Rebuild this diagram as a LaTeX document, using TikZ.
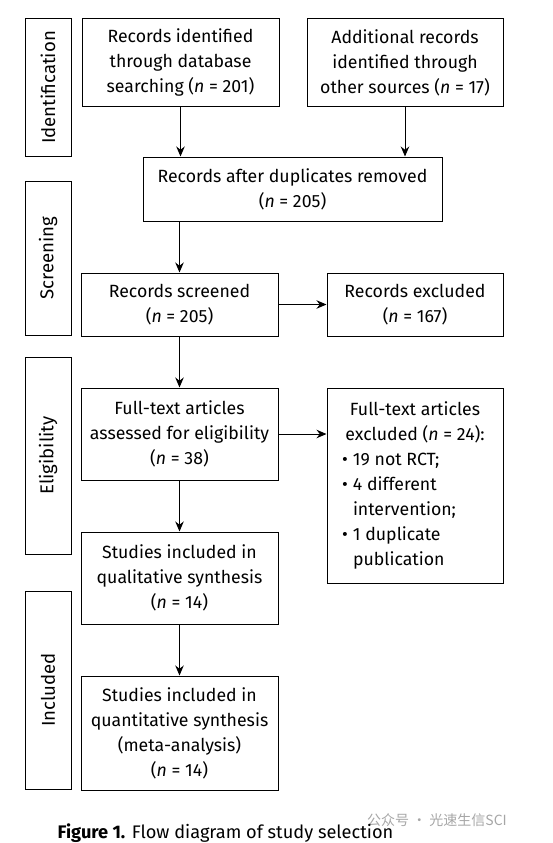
\documentclass[tikz,border=0pt]{standalone}
\usepackage{fontspec}
\setmainfont{Fira Sans}
\newfontfamily\cjkfont{Noto Sans CJK SC}
\usetikzlibrary{arrows.meta}
\newcommand{\flowfont}{\fontsize{17.7}{25}\selectfont}
\newcommand{\stagefont}{\fontsize{18.6}{25}\selectfont}
\newcommand{\itm}{\makebox[11pt][l]{\textbullet}}
\tikzset{
  box/.style={draw, line width=1pt, inner sep=0pt, align=center, font=\flowfont},
  stage/.style={box, rotate=90, minimum height=46pt, font=\stagefont},
  flow/.style={-{Stealth[length=10pt,width=8.5pt]}, line width=1pt},
}
\begin{document}
\begin{tikzpicture}[x=1pt,y=-1pt]
\useasboundingbox (0,0) rectangle (552,843);
% stages on the left
\node[stage, minimum width=137pt] (ident) at (48,87.5) {Identification};
\node[stage, minimum width=154pt] (screen) at (48,258) {Screening};
\node[stage, minimum width=197pt] (elig) at (48,455.5) {Eligibility};
\node[stage, minimum width=198pt] (incl) at (48,690) {Included};
% flow boxes
\node[box, minimum width=197pt, minimum height=87pt] (db) at (180.5,62.5)
  {Records identified\\ through database\\ searching (\textit{n} = 201)};
\node[box, minimum width=196pt, minimum height=87pt] (other) at (405,62.5)
  {Additional records\\ identified through\\ other sources (\textit{n} = 17)};
\node[box, minimum width=299pt, minimum height=64pt] (dup) at (292.5,189)
  {Records after duplicates removed\\ (\textit{n} = 205)};
\node[box, minimum width=197pt, minimum height=63pt] (screened) at (179.5,304.5)
  {Records screened\\ (\textit{n} = 205)};
\node[box, minimum width=176pt, minimum height=63pt] (excl) at (415,304.5)
  {Records excluded\\ (\textit{n} = 167)};
\node[box, minimum width=197pt, minimum height=92pt] (full) at (179.5,434)
  {Full-text articles\\ assessed for eligibility\\ (\textit{n} = 38)};
\node[box, minimum width=176pt, minimum height=195pt, text width=146pt, align=none] (ftexcl) at (415,485.5)
  {\centering Full-text articles\par excluded (\textit{n} = 24):\par
   \raggedright
   \itm 19 not RCT;\par
   \itm 4 different\par
   \hspace*{11pt}intervention;\par
   \itm 1 duplicate\par
   \hspace*{11pt}publication\par};
\node[box, minimum width=197pt, minimum height=92pt] (qual) at (179.5,578)
  {Studies included in\\ qualitative synthesis\\ (\textit{n} = 14)};
\node[box, minimum width=197pt, minimum height=114pt] (quant) at (179.5,733)
  {Studies included in\\ quantitative synthesis\\ (meta-analysis)\\ (\textit{n} = 14)};
% connectors
\draw[flow] (db.south) -- (db.south |- dup.north);
\draw[flow] (other.south) -- (other.south |- dup.north);
\draw[flow] (screened.north |- dup.south) -- (screened.north);
\draw[flow] (screened.east) -- (excl.west);
\draw[flow] (screened.south) -- (full.north);
\draw[flow] (full.east) -- (full.east -| ftexcl.west);
\draw[flow] (full.south) -- (qual.north);
\draw[flow] (qual.south) -- (quant.north);
% caption and mark
\node[font=\cjkfont\fontsize{14}{16}\selectfont, text=black!35] (mark) at (437,820) {公众号 · 光速生信SCI};
\node[font=\fontsize{18.2}{25}\selectfont, anchor=base] (caption) at (225.5,838) {\textbf{Figure 1.} Flow diagram of study selection};
\end{tikzpicture}
\end{document}
